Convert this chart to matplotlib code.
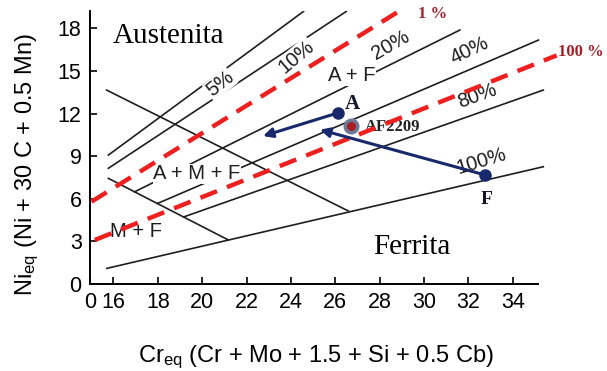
import numpy as np
import matplotlib
matplotlib.use("Agg")
import matplotlib.pyplot as plt

plt.rcParams['font.family'] = ['Liberation Sans', 'DejaVu Sans']
plt.rcParams['mathtext.fontset'] = 'custom'
plt.rcParams['mathtext.rm'] = 'Liberation Sans'
plt.rcParams['mathtext.it'] = 'Liberation Sans'

# ferrite iso-lines (solid), endpoints in (Cr_eq, Ni_eq)
iso_names = ['5%', '10%', '20%', '40%', '80%', '100%']
iso_x = [[15.77, 24.57], [15.77, 26.5], [16.95, 31.62],
         [17.98, 35.16], [19.16, 35.38], [15.7, 35.38]]
iso_y = [[9.08, 19.2], [8.15, 19.2], [6.49, 17.89],
         [5.67, 17.18], [4.72, 13.66], [1.1, 8.26]]

# martensite boundaries (descending)
mart_x = [[15.69, 26.59], [15.77, 21.18]]
mart_y = [[13.66, 5.14], [7.44, 3.1]]

# added red dashed lines
red_names = ['1 %', '100 %']
red_x = [[15.01, 28.84], [15.16, 35.98]]
red_y = [[5.8, 19.18], [3.1, 16.1]]

# points
pt_A = (26.14, 12.06)
pt_F = (32.75, 7.68)
pt_AF2209 = (26.71, 11.13)
tip_A = (22.74, 10.42)
tip_F = (25.31, 10.87)

xticks = [14.94, 16, 18, 20, 22, 24, 26, 28, 30, 32, 34]
xtick_labels = ['0', '16', '18', '20', '22', '24', '26', '28', '30', '32', '34']
yticks = [0, 3, 6, 9, 12, 15, 18]

navy = '#17296b'
red = '#ee1f1f'
darkred = '#a3202a'

fig = plt.figure(figsize=(6.07, 3.71), dpi=100)
ax = fig.add_axes([0.1482, 0.2345, 0.7915, 0.7348])
ax.set_xlim(14.94, 36.6)
ax.set_ylim(0, 19.2)

for xs, ys in zip(iso_x, iso_y):
    ax.plot(xs, ys, color='#1e1e1e', lw=1.2, zorder=2)
for xs, ys in zip(mart_x, mart_y):
    ax.plot(xs, ys, color='#1e1e1e', lw=1.2, zorder=2)

# region / percent labels
lab = dict(fontsize=14.5, color='#1e1e1e', ha='center', va='center', zorder=3,
           bbox=dict(facecolor='white', edgecolor='none', pad=0.5))
ax.text(20.8, 14.08, '5%', rotation=38, **lab)
ax.text(24.23, 15.99, '10%', rotation=40, **lab)
ax.text(28.51, 16.83, '20%', rotation=30, **lab)
ax.text(32.07, 16.48, '40%', rotation=25, **lab)
ax.text(32.39, 13.24, '80%', rotation=20, **lab)
ax.text(32.57, 8.66, '100%', rotation=17, **lab)
ax.text(26.75, 14.65, 'A + F', **lab)
ax.text(19.77, 7.75, 'A + M + F', **lab)
ax.text(17.02, 3.73, 'M + F', **lab)

for xs, ys in zip(red_x, red_y):
    ax.plot(xs, ys, color=red, lw=3.2, dashes=(4, 2.4), zorder=4,
            solid_capstyle='butt', dash_capstyle='butt', clip_on=False)
ax.text(29.73, 19.01, red_names[0], color=darkred, fontsize=12, fontweight='bold',
        family='Liberation Serif', ha='left', va='center', clip_on=False)
ax.text(36.04, 16.34, red_names[1], color=darkred, fontsize=12, fontweight='bold',
        family='Liberation Serif', ha='left', va='center', clip_on=False)

ax.text(15.98, 16.95, 'Austenita', family='Liberation Serif', fontsize=21,
        ha='left', va='baseline')
ax.text(27.70, 2.11, 'Ferrita', family='Liberation Serif', fontsize=21,
        ha='left', va='baseline')

# arrows and points
ax.annotate('', xy=tip_A, xytext=pt_A, zorder=5,
            arrowprops=dict(arrowstyle='-|>', color=navy, lw=2.2, mutation_scale=14,
                            shrinkA=0, shrinkB=0))
ax.annotate('', xy=tip_F, xytext=pt_F, zorder=5,
            arrowprops=dict(arrowstyle='-|>', color=navy, lw=2.2, mutation_scale=14,
                            shrinkA=0, shrinkB=0))
ax.plot(*pt_A, 'o', color=navy, ms=8, zorder=6)
ax.plot(*pt_F, 'o', color=navy, ms=8, zorder=6)
ax.plot(*pt_AF2209, 'o', mfc='#a81c22', mec='#6c7896', mew=2.5, ms=9, zorder=6)
ax.text(26.44, 12.68, 'A', family='Liberation Serif', fontweight='bold', fontsize=15,
        color='#15152a', ha='left', va='center')
ax.text(27.34, 11.06, 'AF2209', family='Liberation Serif', fontweight='bold', fontsize=12,
        color='#222222', ha='left', va='center')
ax.text(32.84, 5.92, 'F', family='Liberation Serif', fontweight='bold', fontsize=14,
        color='#15152a', ha='center', va='center')

# axes
for s in ['top', 'right']:
    ax.spines[s].set_visible(False)
ax.spines['bottom'].set_bounds(14.94, 35.14)
ax.spines['left'].set_linewidth(1.4)
ax.spines['bottom'].set_linewidth(1.4)
ax.set_xticks(xticks)
ax.set_xticklabels(xtick_labels)
ax.set_yticks(yticks)
ax.tick_params(direction='in', length=5, width=1.2, labelsize=15.5, pad=6)

fig.text(0.52, 0.0243, r'Cr$_{\mathrm{eq}}$ (Cr + Mo + 1.5 + Si + 0.5 Cb)',
         fontsize=17, ha='center', va='baseline')
fig.text(27 / 607, 1 - 165 / 371, r'Ni$_{\mathrm{eq}}$ (Ni + 30 C + 0.5 Mn)',
         fontsize=17, rotation=90, ha='center', va='center')

fig.savefig('out.png', dpi=100)
